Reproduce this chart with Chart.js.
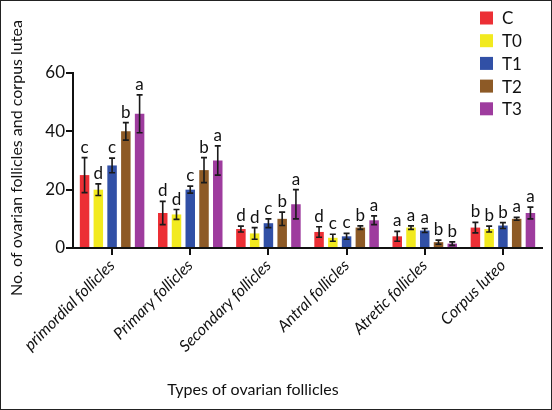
<!DOCTYPE html>
<html>
<head>
<meta charset="utf-8">
<script src="https://cdn.jsdelivr.net/npm/chart.js@4"></script>
<style>
body { margin: 0; background: #fff; }
#wrap { position: absolute; left: 0; top: 0; width: 552px; height: 410px; border: 1px solid #222; box-sizing: border-box; }
canvas { display: block; }
</style>
</head>
<body>
<div id="wrap"><canvas id="chart" width="550" height="408" style="width:550px;height:408px"></canvas></div>
<script>
// data
const categories = ['primordial follicles', 'Primary follicles', 'Secondary follicles', 'Antral follicles', 'Atretic follicles', 'Corpus luteo'];
const groups = ['C', 'T0', 'T1', 'T2', 'T3'];
const colors = ['#ec2f35', '#f2ea1f', '#3150a6', '#8d5a26', '#9e3c9e'];

const valC  = [25, 12, 6.5, 5.5, 4, 7];
const valT0 = [20, 11.5, 5, 3.5, 7, 6.5];
const valT1 = [28.3, 20, 8.5, 4, 6, 7.7];
const valT2 = [40, 26.7, 10, 7, 2, 10];
const valT3 = [46, 30, 15, 9.5, 1.5, 12];

const errC  = [6, 4, 1, 1.8, 1.7, 1.8];
const errT0 = [2, 1.7, 2, 1.2, 0.6, 1];
const errT1 = [2.5, 1.2, 1.5, 1, 0.7, 1];
const errT2 = [3, 4.3, 2.3, 0.6, 0.7, 0.5];
const errT3 = [6.5, 5, 5, 1.5, 0.6, 2];

const letC  = ['c', 'd', 'd', 'd', 'a', 'b'];
const letT0 = ['d', 'd', 'd', 'c', 'a', 'b'];
const letT1 = ['c', 'c', 'c', 'c', 'a', 'b'];
const letT2 = ['b', 'b', 'b', 'b', 'b', 'a'];
const letT3 = ['a', 'a', 'a', 'a', 'b', 'a'];

const yTicks = [0, 20, 40, 60];

const values = [valC, valT0, valT1, valT2, valT3];
const errors = [errC, errT0, errT1, errT2, errT3];
const letters = [letC, letT0, letT1, letT2, letT3];

const FONT = 'Lato, "Open Sans", sans-serif';

// error bars, significance letters, legend and axis titles
const extras = {
    id: 'extras',
    afterDatasetsDraw(chart) {
        const ctx = chart.ctx;
        const y = chart.scales.y;
        ctx.save();
        chart.data.datasets.forEach((ds, i) => {
            const meta = chart.getDatasetMeta(i);
            meta.data.forEach((bar, j) => {
                const v = values[i][j];
                const e = errors[i][j];
                const top = y.getPixelForValue(v + e);
                const bot = y.getPixelForValue(Math.max(0, v - e));
                ctx.strokeStyle = '#1a1a1a';
                ctx.lineWidth = 1.6;
                ctx.beginPath();
                ctx.moveTo(bar.x, top); ctx.lineTo(bar.x, bot);
                ctx.moveTo(bar.x - 3, top); ctx.lineTo(bar.x + 3, top);
                ctx.moveTo(bar.x - 3, bot); ctx.lineTo(bar.x + 3, bot);
                ctx.stroke();

                ctx.fillStyle = '#111';
                ctx.font = '17px ' + FONT;
                ctx.textAlign = 'center';
                ctx.textBaseline = 'alphabetic';
                ctx.fillText(letters[i][j], bar.x, top - 5);
            });
        });
        ctx.restore();
    },
    afterDraw(chart) {
        const ctx = chart.ctx;
        ctx.save();
        ctx.fillStyle = '#111';
        ctx.font = '16px ' + FONT;
        ctx.textAlign = 'center';
        ctx.textBaseline = 'middle';
        ctx.fillText('Types of ovarian follicles', 252, 389);

        ctx.translate(16, 157);
        ctx.rotate(-Math.PI / 2);
        ctx.fillText('No. of ovarian follicles and corpus lutea', 0, 0);
        ctx.restore();

        // legend
        ctx.save();
        ctx.font = '17px ' + FONT;
        ctx.textAlign = 'left';
        ctx.textBaseline = 'middle';
        groups.forEach((g, i) => {
            const cy = 17 + i * 22.7;
            ctx.fillStyle = colors[i];
            ctx.fillRect(479, cy - 6.5, 13, 13);
            ctx.fillStyle = '#111';
            ctx.fillText(g, 501, cy + 1);
        });
        ctx.restore();
    }
};

const ctx = document.getElementById('chart').getContext('2d');
new Chart(ctx, {
    type: 'bar',
    data: {
        labels: categories,
        datasets: groups.map((g, i) => ({
            label: g,
            data: values[i],
            backgroundColor: colors[i],
            borderWidth: 0,
            barPercentage: 0.69,
            categoryPercentage: 0.88
        }))
    },
    options: {
        responsive: false,
        animation: false,
        layout: { padding: { top: 72, right: 9, left: 0, bottom: 0 } },
        plugins: {
            legend: { display: false },
            tooltip: { enabled: false }
        },
        scales: {
            x: {
                grid: { offset: false, drawOnChartArea: false, drawTicks: true, tickLength: 7, color: '#111', lineWidth: 2 },
                border: { color: '#111', width: 2 },
                ticks: {
                    color: '#111',
                    font: { family: FONT, size: 16, style: 'italic' },
                    maxRotation: 45,
                    minRotation: 45,
                    padding: 1
                },
                afterFit(scale) { scale.height = 161; }
            },
            y: {
                min: 0,
                max: 60,
                afterBuildTicks(scale) { scale.ticks = yTicks.map(v => ({ value: v })); },
                grid: { drawOnChartArea: false, drawTicks: true, tickLength: 7, color: '#111', lineWidth: 2 },
                border: { color: '#111', width: 2 },
                ticks: {
                    color: '#111',
                    font: { family: FONT, size: 17 },
                    padding: 1
                },
                afterFit(scale) { scale.width = 72; }
            }
        }
    },
    plugins: [extras]
});
</script>
</body>
</html>
